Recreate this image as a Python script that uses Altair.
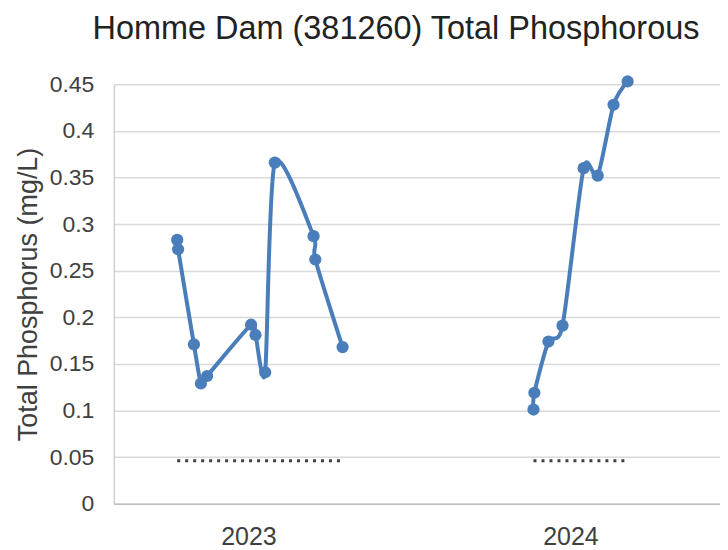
import altair as alt
import pandas as pd

# Sample dates and Total Phosphorus values (mg/L)
dates_2023 = ["2023-04-11", "2023-04-12", "2023-04-30", "2023-05-08", "2023-05-15",
              "2023-07-04", "2023-07-09", "2023-07-20", "2023-07-31", "2023-09-13",
              "2023-09-15", "2023-10-16"]
tp_2023 = [0.283, 0.273, 0.171, 0.129, 0.137, 0.192, 0.181, 0.141, 0.366, 0.287,
           0.262, 0.168]

dates_2024 = ["2024-05-20", "2024-05-21", "2024-06-06", "2024-06-22", "2024-07-16",
              "2024-08-01", "2024-08-19", "2024-09-04"]
tp_2024 = [0.101, 0.119, 0.174, 0.191, 0.360, 0.352, 0.428, 0.453]

guide_value = 0.046
year_labels = ["2023", "2024"]
y_ticks = [0, 0.05, 0.1, 0.15, 0.2, 0.25, 0.3, 0.35, 0.4, 0.45]

rows = []
for d, v in zip(dates_2023, tp_2023):
    rows.append({"date": d, "tp": v, "season": year_labels[0]})
for d, v in zip(dates_2024, tp_2024):
    rows.append({"date": d, "tp": v, "season": year_labels[1]})
df = pd.DataFrame(rows)

guide = pd.DataFrame([
    {"date": dates_2023[0], "tp": guide_value, "season": year_labels[0]},
    {"date": dates_2023[-1], "tp": guide_value, "season": year_labels[0]},
    {"date": dates_2024[0], "tp": guide_value, "season": year_labels[1]},
    {"date": dates_2024[-1], "tp": guide_value, "season": year_labels[1]},
])

blue = "#4a7ebb"
font = "Liberation Sans"

x = alt.X(
    "date:T",
    scale=alt.Scale(domain=[alt.DateTime(year=2023, month=1, date=29),
                            alt.DateTime(year=2024, month=12, date=18)]),
    axis=alt.Axis(
        values=[alt.DateTime(year=2023, month=7, date=1),
                alt.DateTime(year=2024, month=7, date=1)],
        format="%Y", title=None, grid=False, ticks=False, labelAngle=0,
        labelFlush=False, labelFontSize=25, labelPadding=21, labelColor="#404040",
        labelFont=font, domainColor="#bfbfbf", domainWidth=1.5,
    ),
)
y = alt.Y(
    "tp:Q",
    scale=alt.Scale(domain=[0, 0.45], nice=False, zero=True),
    axis=alt.Axis(
        values=y_ticks, format=".2~f", title="Total Phosphorus (mg/L)",
        titleFontSize=27, titleFontWeight="normal", titleColor="#404040",
        titleFont=font, titlePadding=7,
        labelFontSize=23, labelPadding=20, labelColor="#404040", labelFont=font,
        ticks=False, gridColor="#d9d9d9", gridWidth=1.5,
        domainColor="#d0d0d0", domainWidth=1.5,
    ),
)

guide_layer = alt.Chart(guide).mark_line(
    strokeDash=[3, 5], strokeWidth=3, color="#404040", strokeCap="butt"
).encode(x=x, y=y, detail="season:N")

line_layer = alt.Chart(df).mark_line(
    interpolate="cardinal", tension=0.25, strokeWidth=4, color=blue
).encode(x=x, y=y, detail="season:N")

point_layer = alt.Chart(df).mark_circle(
    size=150, opacity=1, color=blue
).encode(x=x, y=y)

chart = alt.layer(guide_layer, line_layer, point_layer).properties(
    width=607,
    height=420,
    padding={"left": 6, "top": 4, "right": 0, "bottom": 0},
    title=alt.TitleParams(
        "Homme Dam (381260) Total Phosphorous",
        fontSize=32.5, font=font, fontWeight="normal", color="#222222",
        offset=28, frame="group", anchor="middle", dx=-21,
    ),
).configure_view(stroke=None)

chart.save("out.html", embed_options={"renderer": "svg", "actions": False})
